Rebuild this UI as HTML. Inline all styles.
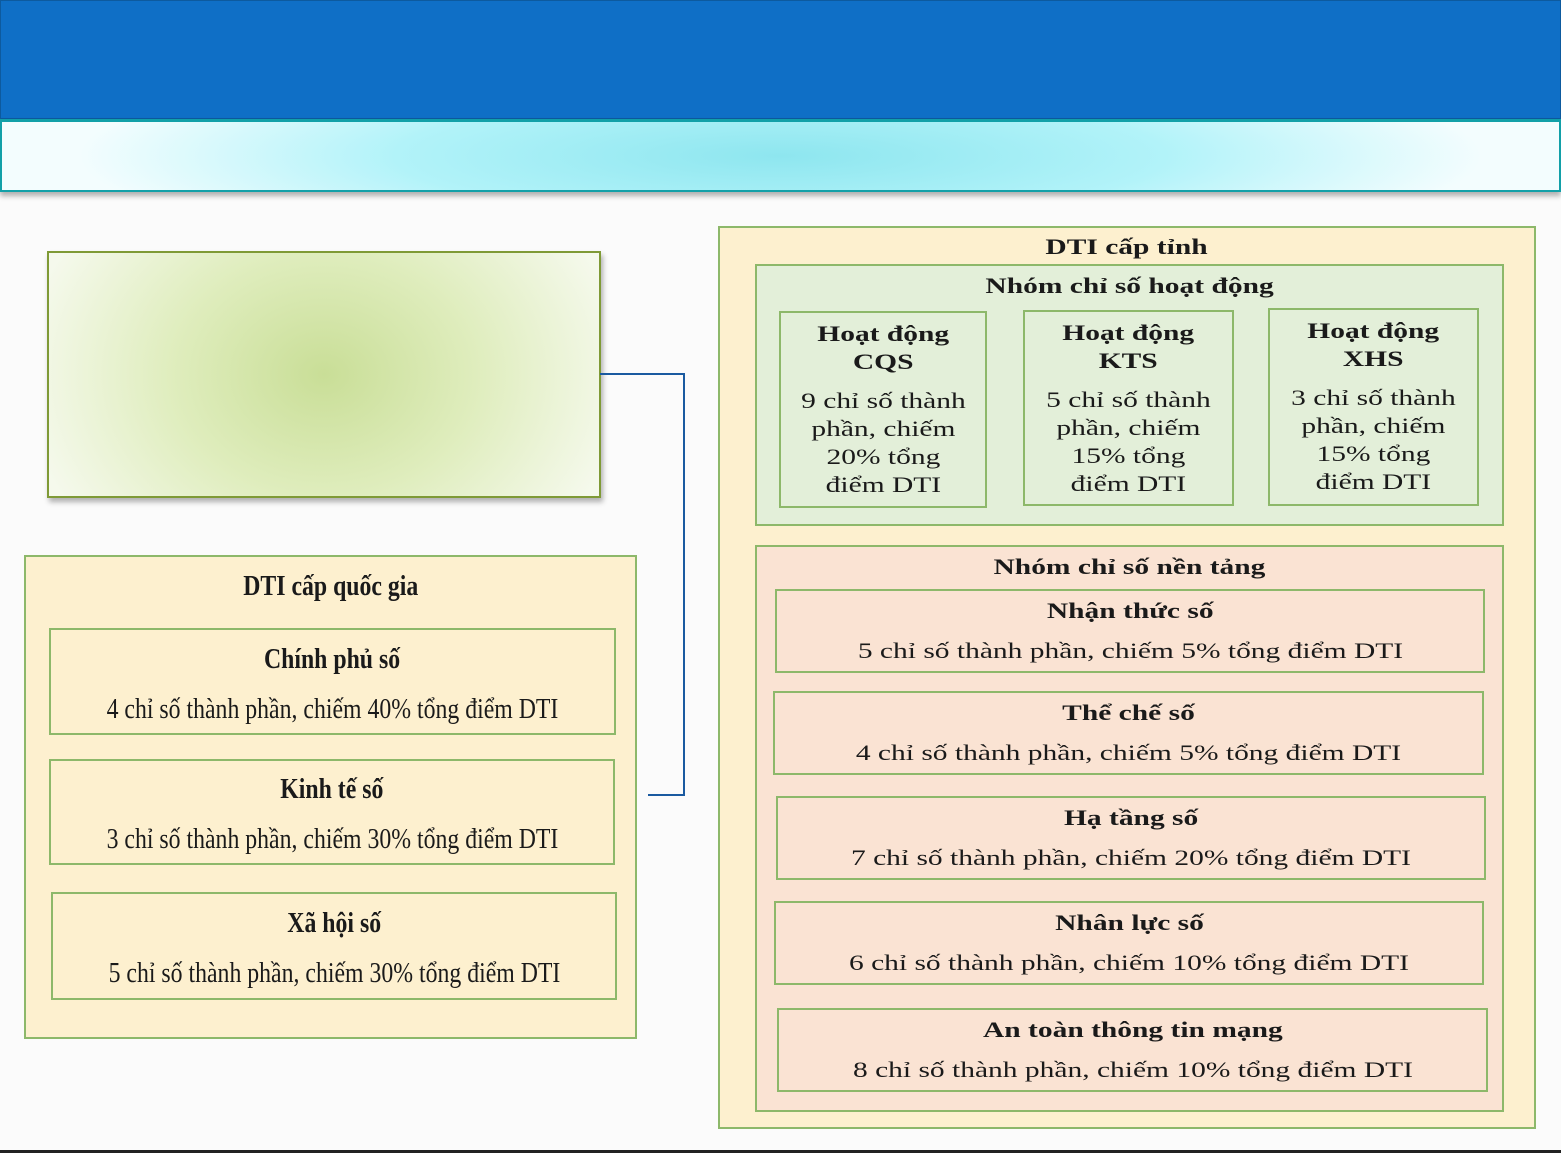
<!DOCTYPE html>
<html><head><meta charset="utf-8"><style>
body{margin:0;width:1561px;height:1153px;position:relative;overflow:hidden;background:#fbfbfb;font-family:"Liberation Serif",serif;color:#1a1a1a}
.b{position:absolute;box-sizing:border-box;border:2px solid #8db86a}
.t{position:absolute;text-align:center;white-space:nowrap;line-height:1}
.t span{display:inline-block}
.w span{transform:scaleX(1.34)}
.n span{transform:scaleX(0.82)}
.bo{font-weight:bold}
</style></head><body>
<div style="position:absolute;left:0;top:0;width:1561px;height:119px;background:#0f6fc6;border:1px solid #0d5a9e;box-sizing:border-box"></div>
<div style="position:absolute;left:0;top:119px;width:1561px;height:73px;box-sizing:border-box;border:2px solid #12a0a8;border-top-width:3px;background:radial-gradient(ellipse 45% 160% at 50% 50%,#8ee6ef,#b2f3f9 55%,#f3fdfe 100%);box-shadow:0 4px 5px rgba(0,0,0,.3)"></div>
<div style="position:absolute;left:0;top:1150px;width:1561px;height:3px;background:#222"></div>

<div class="b" style="left:47px;top:251px;width:554px;height:247px;border-color:#7f9a36;background:radial-gradient(ellipse 55% 100% at 50% 50%,#c9de97,#dfedbd 50%,#f5f9ec 100%);box-shadow:2px 4px 5px rgba(0,0,0,.3)"></div>
<svg style="position:absolute;left:0;top:0" width="1561" height="1153"><polyline points="600,374 684,374 684,795 648,795" fill="none" stroke="#1a5aa0" stroke-width="2"/></svg>

<!-- left -->
<div class="b" style="left:24px;top:555px;width:613px;height:484px;background:#fdf0cf"></div>
<div class="t n bo" style="left:24px;width:613px;top:572px;font-size:29px"><span>DTI cấp quốc gia</span></div>
<div class="b" style="left:49px;top:628px;width:567px;height:107px;background:#fdf0cf"></div>
<div class="t n bo" style="left:49px;width:567px;top:645px;font-size:29px"><span>Chính phủ số</span></div>
<div class="t n" style="left:49px;width:567px;top:695px;font-size:29px"><span>4 chỉ số thành phần, chiếm 40% tổng điểm DTI</span></div>
<div class="b" style="left:49px;top:759px;width:566px;height:106px;background:#fdf0cf"></div>
<div class="t n bo" style="left:49px;width:566px;top:775px;font-size:29px"><span>Kinh tế số</span></div>
<div class="t n" style="left:49px;width:566px;top:825px;font-size:29px"><span>3 chỉ số thành phần, chiếm 30% tổng điểm DTI</span></div>
<div class="b" style="left:51px;top:892px;width:566px;height:108px;background:#fdf0cf"></div>
<div class="t n bo" style="left:51px;width:566px;top:909px;font-size:29px"><span>Xã hội số</span></div>
<div class="t n" style="left:51px;width:566px;top:959px;font-size:29px"><span>5 chỉ số thành phần, chiếm 30% tổng điểm DTI</span></div>

<!-- right -->
<div class="b" style="left:718px;top:226px;width:818px;height:903px;background:#fdf0cf"></div>
<div class="t w bo" style="left:718px;width:818px;top:236px;font-size:22px"><span>DTI cấp tỉnh</span></div>
<div class="b" style="left:755px;top:264px;width:749px;height:262px;background:#e3efd9"></div>
<div class="t w bo" style="left:755px;width:749px;top:275px;font-size:22px"><span>Nhóm chỉ số hoạt động</span></div>

<div class="b" style="left:779px;top:311px;width:208px;height:197px"></div>
<div class="t w bo" style="left:779px;width:208px;top:320px;font-size:22px;line-height:28px"><span>Hoạt động<br>CQS</span></div>
<div class="t w" style="left:779px;width:208px;top:387px;font-size:22px;line-height:28px"><span>9 chỉ số thành<br>phần, chiếm<br>20% tổng<br>điểm DTI</span></div>
<div class="b" style="left:1023px;top:310px;width:211px;height:196px"></div>
<div class="t w bo" style="left:1023px;width:211px;top:319px;font-size:22px;line-height:28px"><span>Hoạt động<br>KTS</span></div>
<div class="t w" style="left:1023px;width:211px;top:386px;font-size:22px;line-height:28px"><span>5 chỉ số thành<br>phần, chiếm<br>15% tổng<br>điểm DTI</span></div>
<div class="b" style="left:1268px;top:308px;width:211px;height:198px"></div>
<div class="t w bo" style="left:1268px;width:211px;top:317px;font-size:22px;line-height:28px"><span>Hoạt động<br>XHS</span></div>
<div class="t w" style="left:1268px;width:211px;top:384px;font-size:22px;line-height:28px"><span>3 chỉ số thành<br>phần, chiếm<br>15% tổng<br>điểm DTI</span></div>

<div class="b" style="left:755px;top:545px;width:749px;height:567px;background:#fae3d3"></div>
<div class="t w bo" style="left:755px;width:749px;top:556px;font-size:22px"><span>Nhóm chỉ số nền tảng</span></div>

<div class="b" style="left:775px;top:589px;width:710px;height:84px"></div>
<div class="t w bo" style="left:775px;width:710px;top:600px;font-size:22px"><span>Nhận thức số</span></div>
<div class="t w" style="left:775px;width:710px;top:640px;font-size:22px"><span>5 chỉ số thành phần, chiếm 5% tổng điểm DTI</span></div>
<div class="b" style="left:773px;top:691px;width:711px;height:84px"></div>
<div class="t w bo" style="left:773px;width:711px;top:702px;font-size:22px"><span>Thể chế số</span></div>
<div class="t w" style="left:773px;width:711px;top:742px;font-size:22px"><span>4 chỉ số thành phần, chiếm 5% tổng điểm DTI</span></div>
<div class="b" style="left:776px;top:796px;width:710px;height:84px"></div>
<div class="t w bo" style="left:776px;width:710px;top:807px;font-size:22px"><span>Hạ tầng số</span></div>
<div class="t w" style="left:776px;width:710px;top:847px;font-size:22px"><span>7 chỉ số thành phần, chiếm 20% tổng điểm DTI</span></div>
<div class="b" style="left:774px;top:901px;width:710px;height:84px"></div>
<div class="t w bo" style="left:774px;width:710px;top:912px;font-size:22px"><span>Nhân lực số</span></div>
<div class="t w" style="left:774px;width:710px;top:952px;font-size:22px"><span>6 chỉ số thành phần, chiếm 10% tổng điểm DTI</span></div>
<div class="b" style="left:777px;top:1008px;width:711px;height:84px"></div>
<div class="t w bo" style="left:777px;width:711px;top:1019px;font-size:22px"><span>An toàn thông tin mạng</span></div>
<div class="t w" style="left:777px;width:711px;top:1059px;font-size:22px"><span>8 chỉ số thành phần, chiếm 10% tổng điểm DTI</span></div>
</body></html>
